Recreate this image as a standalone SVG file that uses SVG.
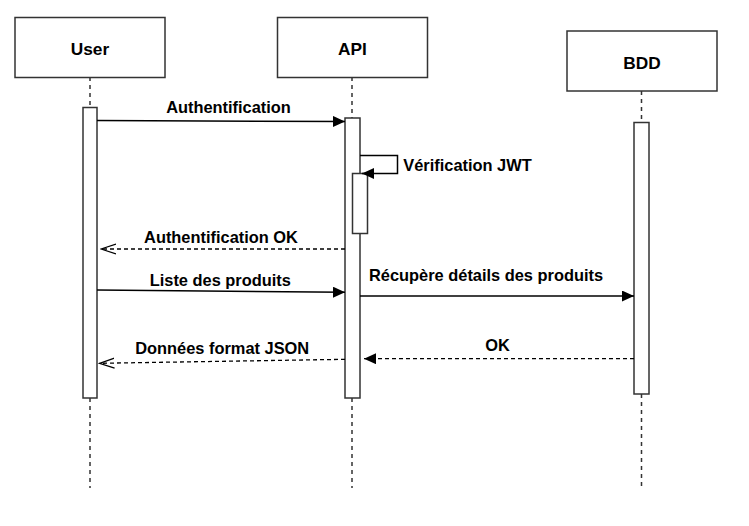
<svg xmlns="http://www.w3.org/2000/svg" width="749" height="526" viewBox="0 0 749 526">
<defs>
<style>
.box{fill:#fff;stroke:#333;stroke-width:1.5}
.act{fill:#fff;stroke:#333;stroke-width:1.5}
.life{stroke:#333;stroke-width:1.5;stroke-dasharray:4 4;fill:none}
.msg{stroke:#000;stroke-width:1.5;fill:none}
.ret{stroke:#000;stroke-width:1.3;fill:none;stroke-dasharray:4 3}
.name{font-family:"Liberation Sans",Arial,sans-serif;font-weight:bold;font-size:17.3px;fill:#000;text-anchor:middle}
.lbl{font-family:"Liberation Sans",Arial,sans-serif;font-weight:bold;font-size:16.4px;fill:#000}
</style>
<marker id="fill" viewBox="0 0 12 11" refX="12" refY="5.5" markerWidth="12" markerHeight="11" markerUnits="userSpaceOnUse" orient="auto">
<path d="M0,0 L12,5.5 L0,11 Z" fill="#000"/>
</marker>
<marker id="open" viewBox="0 0 16 12" refX="15" refY="6" markerWidth="16" markerHeight="12" markerUnits="userSpaceOnUse" orient="auto">
<path d="M0,1 L15,6 L0,11" fill="none" stroke="#000" stroke-width="1.3"/>
</marker>
</defs>
<rect width="749" height="526" fill="#fff"/>
<g id="lifelines">
<line class="life" x1="90" y1="77" x2="90" y2="107"/>
<line class="life" x1="90" y1="398" x2="90" y2="488"/>
<line class="life" x1="352" y1="77" x2="352" y2="118"/>
<line class="life" x1="352" y1="398" x2="352" y2="488"/>
<line class="life" x1="641.5" y1="91" x2="641.5" y2="122"/>
<line class="life" x1="641.5" y1="394" x2="641.5" y2="488"/>
</g>
<g id="user">
<rect class="box" x="15" y="17.5" width="150" height="60"/>
<text class="name" x="90" y="55">User</text>
<rect class="act" x="83" y="107.5" width="14" height="290.5"/>
</g>
<g id="api">
<rect class="box" x="277.5" y="17.5" width="150" height="60"/>
<text class="name" x="352.5" y="55">API</text>
<rect class="act" x="345" y="118" width="15" height="280"/>
<rect class="act" x="352.5" y="173.5" width="15" height="60"/>
</g>
<g id="bdd">
<rect class="box" x="567" y="31" width="150" height="60"/>
<text class="name" x="642" y="68.5">BDD</text>
<rect class="act" x="634" y="122.5" width="15" height="271.5"/>
</g>
<g id="connectors">
<path class="msg" d="M97,120.5 L345,121.5" marker-end="url(#fill)"/>
<path class="msg" d="M360,155.5 L397.5,155.5 L397.5,173.5 L362,173.5" marker-end="url(#fill)"/>
<path class="ret" d="M345,249 L101,249" marker-end="url(#open)"/>
<path class="msg" d="M97,290 L345,292.3" marker-end="url(#fill)"/>
<path class="msg" d="M360,296 L634,296" marker-end="url(#fill)"/>
<path class="ret" d="M634,358.7 L364,358.7" marker-end="url(#fill)"/>
<path class="ret" d="M345,359.3 L99.5,363.3" marker-end="url(#open)"/>
</g>
<g id="labels">
<text class="lbl" x="228.5" y="113.3" text-anchor="middle">Authentification</text>
<text class="lbl" x="403.3" y="170.7">Vérification JWT</text>
<text class="lbl" x="221" y="243" text-anchor="middle">Authentification OK</text>
<text class="lbl" x="220.3" y="286" text-anchor="middle">Liste des produits</text>
<text class="lbl" x="369" y="280.7">Récupère détails des produits</text>
<text class="lbl" x="497.5" y="350.7" text-anchor="middle">OK</text>
<text class="lbl" x="222.2" y="354.3" text-anchor="middle">Données format JSON</text>
</g>
</svg>
